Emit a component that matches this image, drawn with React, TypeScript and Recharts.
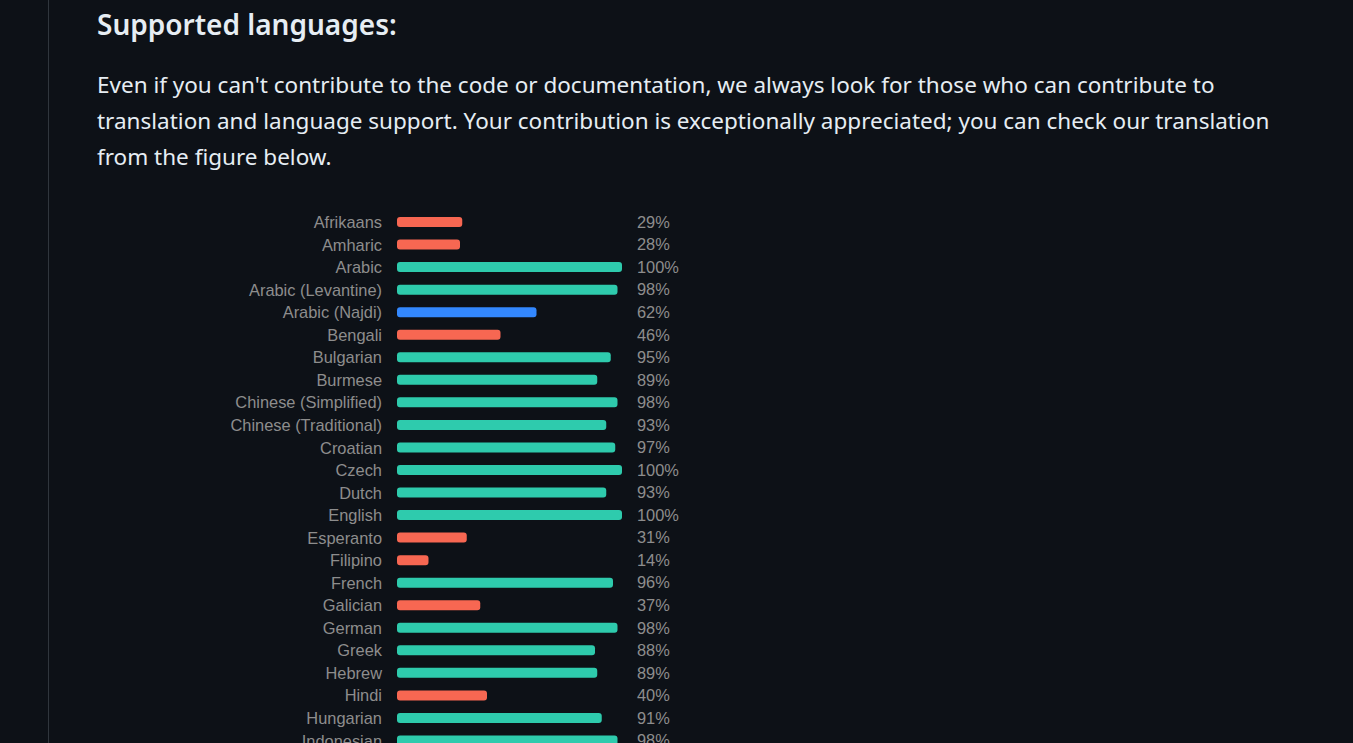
import { BarChart, Bar, XAxis, YAxis, Cell, LabelList } from "recharts"

const languages = [
  "Afrikaans",
  "Amharic",
  "Arabic",
  "Arabic (Levantine)",
  "Arabic (Najdi)",
  "Bengali",
  "Bulgarian",
  "Burmese",
  "Chinese (Simplified)",
  "Chinese (Traditional)",
  "Croatian",
  "Czech",
  "Dutch",
  "English",
  "Esperanto",
  "Filipino",
  "French",
  "Galician",
  "German",
  "Greek",
  "Hebrew",
  "Hindi",
  "Hungarian",
  "Indonesian",
]

const progress = [29, 28, 100, 98, 62, 46, 95, 89, 98, 93, 97, 100, 93, 100, 31, 14, 96, 37, 98, 88, 89, 40, 91, 98]

const data = languages.map((name, i) => ({ name, value: progress[i] }))

const labelFont = "'Liberation Sans', Arial, sans-serif"

function barColor(v: number) {
  if (v < 50) return "#f76752"
  if (v < 70) return "#3388ff"
  return "#2ecbad"
}

function PercentLabel(props: any) {
  const { x, y, height, value } = props
  return (
    <text
      x={x + 240}
      y={y + height / 2}
      dy="0.355em"
      fill="#8d8d8d"
      fontSize={16.4}
      fontFamily={labelFont}
      textAnchor="start"
    >
      {value}%
    </text>
  )
}

export default function App() {
  return (
    <div
      style={{
        position: "fixed",
        inset: 0,
        overflow: "hidden",
        background: "#0d1117",
        color: "#e6edf3",
        fontFamily: "'Noto Sans', sans-serif",
      }}
    >
      <div style={{ position: "absolute", left: 48, top: 0, bottom: 0, width: 1, background: "#30363d" }} />
      <div
        style={{
          position: "absolute",
          left: 97,
          top: 4,
          fontSize: 28,
          fontWeight: 600,
          lineHeight: "40px",
          whiteSpace: "nowrap",
        }}
      >
        Supported languages:
      </div>
      <div
        style={{
          position: "absolute",
          left: 97,
          top: 67,
          fontSize: 22.5,
          lineHeight: "36px",
          whiteSpace: "nowrap",
        }}
      >
        Even if you can't contribute to the code or documentation, we always look for those who can contribute to
        <br />
        translation and language support. Your contribution is exceptionally appreciated; you can check our translation
        <br />
        from the figure below.
      </div>
      <div style={{ position: "absolute", left: 197, top: 211 }}>
        <BarChart
          width={505}
          height={541}
          data={data}
          layout="vertical"
          margin={{ top: 0, right: 80, bottom: 0, left: 0 }}
        >
          <XAxis type="number" domain={[0, 100]} hide />
          <YAxis
            type="category"
            dataKey="name"
            width={200}
            axisLine={false}
            tickLine={false}
            tickSize={0}
            tickMargin={15}
            interval={0}
            tick={{ fill: "#8d8d8d", fontSize: 16.4, fontFamily: labelFont }}
          />
          <Bar dataKey="value" barSize={10} radius={3} isAnimationActive={false}>
            {data.map((entry, index) => (
              <Cell key={`cell-${index}`} fill={barColor(entry.value)} />
            ))}
            <LabelList dataKey="value" content={PercentLabel} />
          </Bar>
        </BarChart>
      </div>
    </div>
  )
}
